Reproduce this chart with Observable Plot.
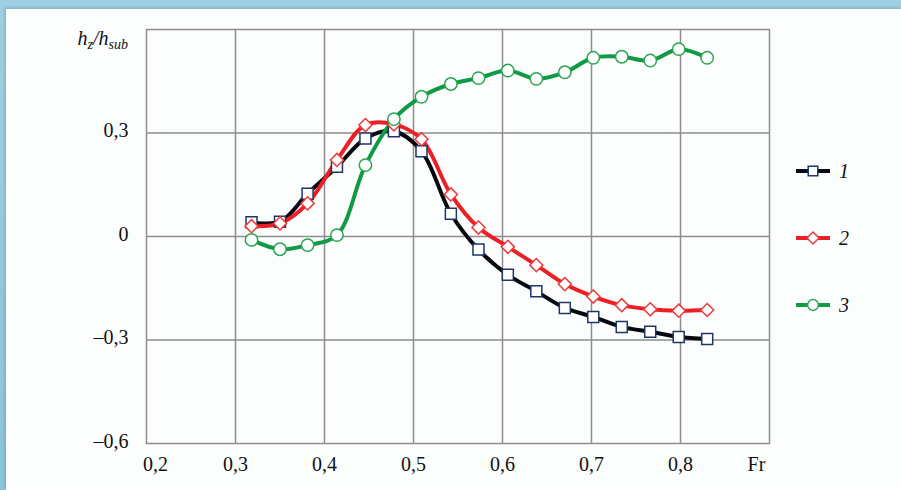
<!DOCTYPE html>
<html>
<head>
<meta charset="utf-8">
<script src="https://cdn.jsdelivr.net/npm/d3@7"></script>
<script src="https://cdn.jsdelivr.net/npm/@observablehq/plot@0.6"></script>
<style>
  html, body { margin: 0; padding: 0; }
  body { width: 901px; height: 490px; position: relative; overflow: hidden;
         background: linear-gradient(180deg, #9fd0e2 0%, #8cc4d8 100%); }
  #panel { position: absolute; left: 6px; top: 9px; width: 895px; height: 481px;
           background: #fcfefe; box-shadow: -1px -1px 3px rgba(60,110,130,0.35); }
  #chart { position: absolute; left: 0; top: 0; }
  #ylabel { position: absolute; right: 773px; top: 28px; font-family: "Liberation Serif", "Times New Roman", Tinos, "DejaVu Serif", serif;
            font-style: italic; font-size: 20px; line-height: 20px; color: #111; white-space: nowrap; }
  #ylabel sub { font-size: 14px; vertical-align: -4px; line-height: 0; }
  #legend { position: absolute; left: 790px; top: 150px; }
  svg text { font-family: "Liberation Serif", "Times New Roman", Tinos, "DejaVu Serif", serif !important; }
</style>
</head>
<body>
<div id="panel"></div>
<div id="chart"></div>
<div id="ylabel">h<sub>z</sub>/h<sub>sub</sub></div>
<div id="legend"></div>
<script>
// Froude numbers (x)
const fr = [0.318, 0.350, 0.381, 0.414, 0.446, 0.478, 0.509, 0.542, 0.573, 0.606, 0.638, 0.670, 0.702, 0.734, 0.766, 0.798, 0.830];
// series values h_z/h_sub
const series1 = [0.041, 0.043, 0.124, 0.202, 0.284, 0.305, 0.247, 0.066, -0.038, -0.111, -0.159, -0.207, -0.233, -0.262, -0.276, -0.291, -0.297];
const series2 = [0.030, 0.038, 0.096, 0.222, 0.323, 0.325, 0.282, 0.122, 0.026, -0.030, -0.083, -0.138, -0.174, -0.199, -0.211, -0.215, -0.213];
const series3 = [-0.010, -0.037, -0.025, 0.004, 0.207, 0.340, 0.405, 0.442, 0.459, 0.481, 0.457, 0.476, 0.518, 0.521, 0.510, 0.543, 0.518];
const seriesNames = ["1", "2", "3"];
// tick values
const xTicks = [0.3, 0.4, 0.5, 0.6, 0.7, 0.8];
const xEdgeTick = [0.2];
const xAxisTitleTick = [0.9];
const yTicks = [-0.6, -0.3, 0, 0.3];

const styles = {
  "1": {line: "#08080f", stroke: "#1e3566", symbol: "square", r: 6.2},
  "2": {line: "#ec1f24", stroke: "#ee3a3a", symbol: "diamond2", r: 5.9},
  "3": {line: "#0f9a43", stroke: "#2aa552", symbol: "circle", r: 6.2}
};
const allSeries = [series1, series2, series3];
const data = allSeries.map((vals, i) => vals.map((v, j) => ({x: fr[j], y: v, s: seriesNames[i]})));

const fmt = v => v === 0 ? "0" : (v < 0 ? "\u2013" : "") + Math.abs(v).toFixed(1).replace(".", ",");
const font = "'Liberation Serif', 'Times New Roman', Tinos, 'DejaVu Serif', serif";
const grid = "#8d8d8d";

const marks = [
  Plot.gridX(xTicks, {stroke: grid, strokeOpacity: 1, strokeWidth: 1.5}),
  Plot.gridY([-0.3, 0, 0.3], {stroke: grid, strokeOpacity: 1, strokeWidth: 1.5}),
  Plot.frame({stroke: grid, strokeWidth: 1.5}),
  Plot.axisX(xTicks, {tickSize: 0, tickPadding: 13, tickFormat: fmt, fontSize: 20, fontFamily: font, fill: "#111", label: null}),
  Plot.axisX(xEdgeTick, {tickSize: 0, tickPadding: 13, tickFormat: fmt, fontSize: 20, fontFamily: font, fill: "#111", label: null, dx: 9}),
  Plot.axisX(xAxisTitleTick, {tickSize: 0, tickPadding: 13, tickFormat: () => "Fr", fontSize: 20, fontFamily: font, fill: "#111", label: null, dx: -13}),
  Plot.axisY(yTicks, {tickSize: 0, tickPadding: 18, tickFormat: fmt, fontSize: 20, fontFamily: font, fill: "#111", label: null, dy: -2})
];
data.forEach(d => {
  const st = styles[d[0].s];
  marks.push(Plot.line(d, {x: "x", y: "y", stroke: st.line, strokeWidth: 4, curve: "catmull-rom"}));
});
data.forEach(d => {
  const st = styles[d[0].s];
  marks.push(Plot.dot(d, {x: "x", y: "y", symbol: () => st.symbol, r: st.r, fill: "white", stroke: st.stroke, strokeWidth: 1.5}));
});

const plot = Plot.plot({
  width: 901,
  height: 490,
  marginLeft: 146,
  marginRight: 132,
  marginTop: 29,
  marginBottom: 47,
  style: {background: "none", overflow: "visible", fontFamily: font},
  x: {domain: [0.2, 0.9]},
  y: {domain: [-0.6, 0.6]},
  symbol: {type: "identity"},
  marks
});
document.getElementById("chart").appendChild(plot);

// Legend
const leg = d3.select("#legend").append("svg").attr("width", 100).attr("height", 180);
seriesNames.forEach((name, i) => {
  const st = styles[name];
  const cy = 21 + i * 67;
  const g = leg.append("g").attr("transform", `translate(0,${cy})`);
  g.append("line").attr("x1", 6).attr("x2", 40).attr("y1", 0).attr("y2", 0)
    .attr("stroke", st.line).attr("stroke-width", 4);
  const symMap = {square: d3.symbolSquare, diamond2: d3.symbolDiamond2, circle: d3.symbolCircle};
  g.append("path").attr("transform", "translate(23,0)")
    .attr("d", d3.symbol(symMap[st.symbol], Math.PI * 5.4 * 5.4)())
    .attr("fill", "white").attr("stroke", st.stroke).attr("stroke-width", 1.5);
  g.append("text").attr("x", 49).attr("y", 6.5).text(name)
    .attr("font-style", "italic").attr("font-size", 20).attr("fill", "#111");
});
</script>
</body>
</html>
